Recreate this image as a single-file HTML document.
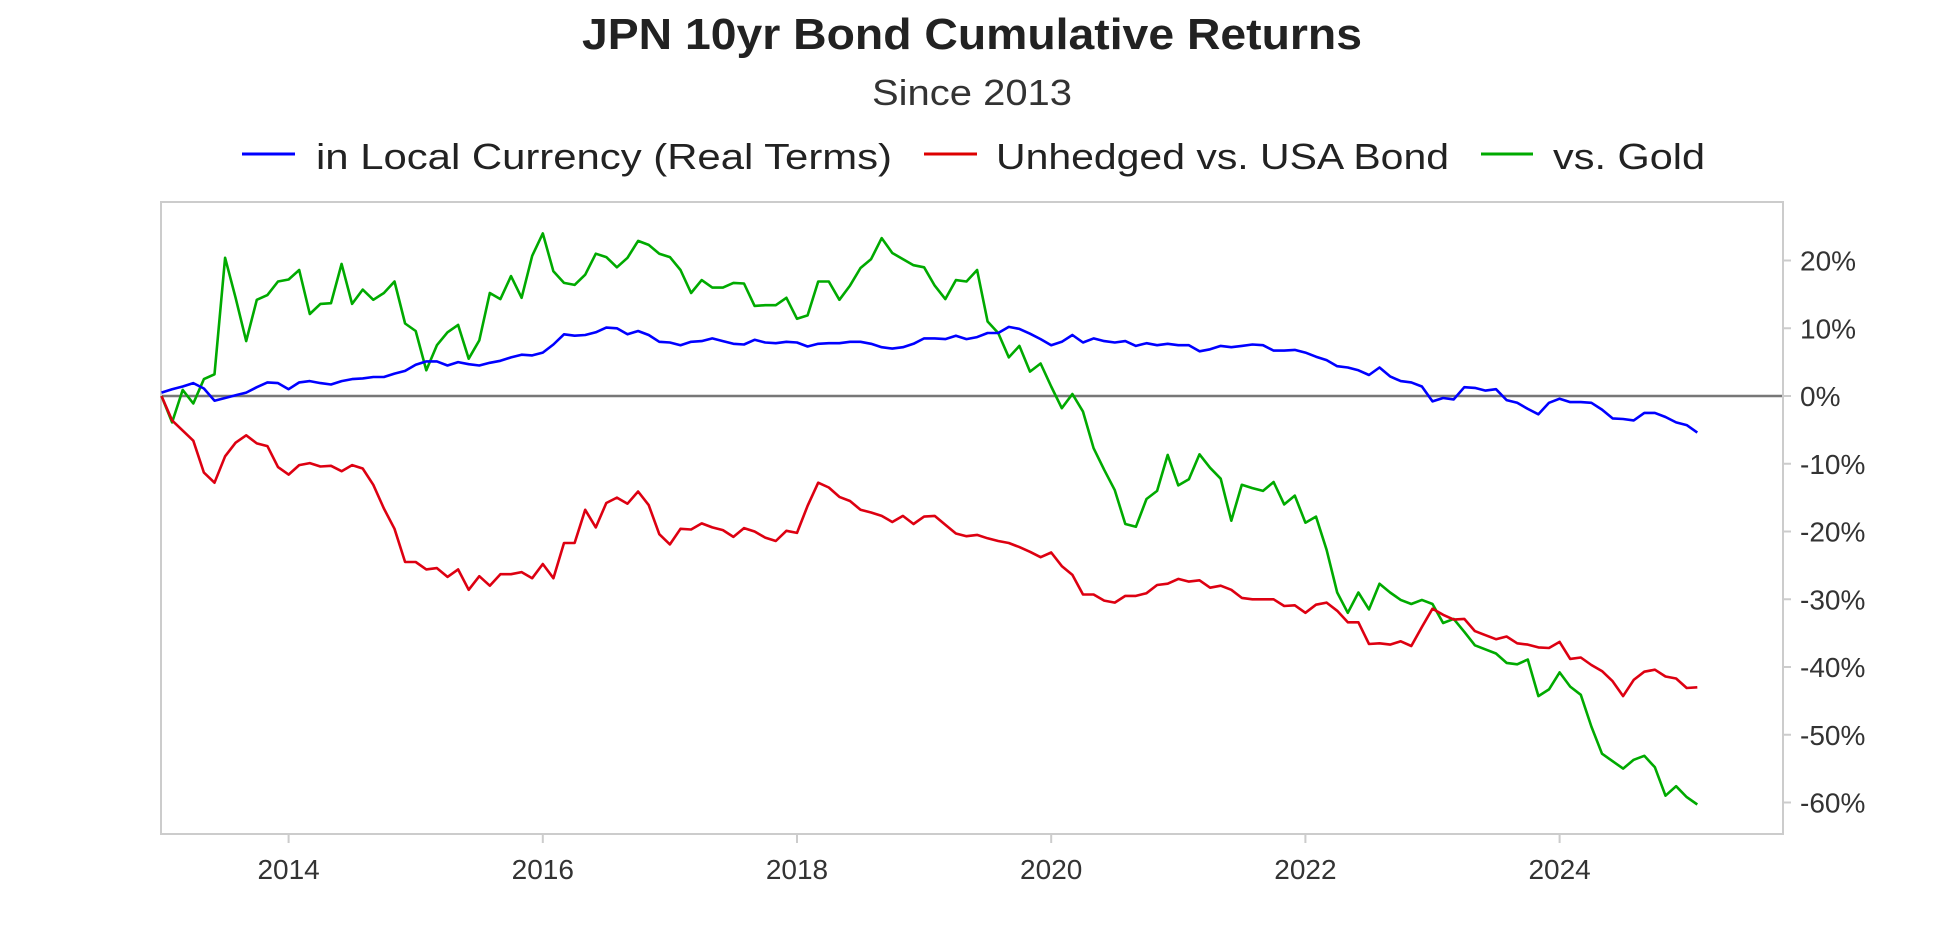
<!DOCTYPE html>
<html><head><meta charset="utf-8"><style>
html,body{margin:0;padding:0;background:#fff;}
svg{display:block;font-family:"Liberation Sans",sans-serif;}
</style></head><body>
<svg id="chart" width="1945" height="948" viewBox="0 0 1945 948" xmlns="http://www.w3.org/2000/svg">
<text x="972" y="49" text-anchor="middle" font-size="44" font-weight="bold" fill="#222" textLength="780" lengthAdjust="spacingAndGlyphs">JPN 10yr Bond Cumulative Returns</text>
<text x="972" y="105" text-anchor="middle" font-size="36" fill="#333" textLength="200" lengthAdjust="spacingAndGlyphs">Since 2013</text>
<g>
<g><line x1="242" y1="154" x2="295" y2="154" stroke="#0000ff" stroke-width="3"/><text x="316" y="169" font-size="36" fill="#222" textLength="576" lengthAdjust="spacingAndGlyphs">in Local Currency (Real Terms)</text></g>
<g><line x1="924" y1="154" x2="977" y2="154" stroke="#dd0000" stroke-width="3"/><text x="996" y="169" font-size="36" fill="#222" textLength="453" lengthAdjust="spacingAndGlyphs">Unhedged vs. USA Bond</text></g>
<g><line x1="1481" y1="154" x2="1533" y2="154" stroke="#00aa00" stroke-width="3"/><text x="1553" y="169" font-size="36" fill="#222" textLength="152" lengthAdjust="spacingAndGlyphs">vs. Gold</text></g>
</g>
<rect x="161" y="202" width="1622" height="632" fill="none" stroke="#cccccc" stroke-width="2"/>
<g id="axes"></g>
<g id="series"></g>
</svg>
<script>
const yTicks = [20, 10, 0, -10, -20, -30, -40, -50, -60];
const xTickYears = [2014, 2016, 2018, 2020, 2022, 2024];
const startYear = 2013;
const localReal = [0.5,1.0,1.4,1.9,1.1,-0.7,-0.3,0.1,0.5,1.3,2.0,1.9,1.0,2.0,2.2,1.9,1.7,2.2,2.5,2.6,2.8,2.8,3.3,3.7,4.6,5.1,5.1,4.5,5.0,4.7,4.5,4.9,5.2,5.7,6.1,6.0,6.4,7.6,9.1,8.9,9.0,9.4,10.1,10.0,9.1,9.6,9.0,8.0,7.9,7.5,8.0,8.1,8.5,8.1,7.7,7.6,8.3,7.9,7.8,8.0,7.9,7.3,7.7,7.8,7.8,8.0,8.0,7.7,7.2,7.0,7.2,7.7,8.5,8.5,8.4,8.9,8.4,8.7,9.3,9.3,10.2,9.9,9.2,8.4,7.5,8.0,9.0,7.9,8.5,8.1,7.9,8.1,7.4,7.8,7.5,7.7,7.5,7.5,6.6,6.9,7.4,7.2,7.4,7.6,7.5,6.7,6.7,6.8,6.4,5.8,5.3,4.4,4.2,3.8,3.1,4.2,2.9,2.2,2.0,1.4,-0.8,-0.3,-0.5,1.3,1.2,0.8,1.0,-0.6,-1.0,-1.9,-2.7,-1.0,-0.4,-0.9,-0.9,-1.0,-2.0,-3.3,-3.4,-3.6,-2.5,-2.5,-3.1,-3.9,-4.3,-5.4];
const unhedgedUsa = [0,-3.6,-5.1,-6.6,-11.3,-12.8,-8.9,-6.9,-5.8,-7.0,-7.4,-10.5,-11.6,-10.2,-9.9,-10.4,-10.3,-11.1,-10.2,-10.7,-13.1,-16.6,-19.6,-24.5,-24.5,-25.6,-25.4,-26.7,-25.6,-28.6,-26.6,-28.0,-26.3,-26.3,-26.0,-26.9,-24.8,-26.9,-21.7,-21.7,-16.8,-19.4,-15.8,-15.0,-15.9,-14.1,-16.1,-20.4,-21.9,-19.6,-19.7,-18.8,-19.4,-19.8,-20.8,-19.5,-20.0,-20.9,-21.4,-19.9,-20.2,-16.2,-12.8,-13.5,-14.9,-15.5,-16.8,-17.2,-17.7,-18.6,-17.7,-18.9,-17.8,-17.7,-19.0,-20.3,-20.7,-20.5,-21.0,-21.4,-21.7,-22.3,-23.0,-23.8,-23.1,-25.1,-26.4,-29.3,-29.3,-30.2,-30.5,-29.5,-29.5,-29.1,-27.9,-27.7,-27.0,-27.4,-27.2,-28.3,-28.0,-28.6,-29.8,-30.0,-30.0,-30.0,-31.0,-30.9,-32.0,-30.8,-30.5,-31.7,-33.4,-33.4,-36.6,-36.5,-36.7,-36.2,-36.9,-34.1,-31.4,-32.3,-33.0,-32.9,-34.7,-35.3,-35.9,-35.5,-36.5,-36.7,-37.1,-37.2,-36.3,-38.8,-38.6,-39.7,-40.6,-42.1,-44.3,-41.9,-40.7,-40.4,-41.4,-41.7,-43.1,-43.0];
const vsGold = [0,-3.9,0.9,-1.1,2.5,3.2,20.4,14.5,8.1,14.2,14.9,16.9,17.2,18.6,12.1,13.6,13.7,19.5,13.6,15.7,14.2,15.2,16.9,10.7,9.6,3.8,7.5,9.4,10.5,5.5,8.2,15.2,14.3,17.7,14.5,20.7,24.0,18.4,16.7,16.4,17.9,21.0,20.5,19.0,20.4,22.9,22.3,21.0,20.5,18.6,15.2,17.1,16.0,16.0,16.7,16.6,13.3,13.4,13.4,14.5,11.4,11.9,16.9,16.9,14.2,16.3,18.9,20.2,23.3,21.1,20.2,19.3,19.0,16.3,14.3,17.1,16.9,18.6,11.0,9.3,5.7,7.4,3.6,4.8,1.4,-1.8,0.3,-2.3,-7.7,-10.9,-13.9,-18.9,-19.3,-15.2,-14.0,-8.7,-13.2,-12.3,-8.6,-10.6,-12.2,-18.4,-13.1,-13.6,-14.0,-12.7,-16.0,-14.7,-18.7,-17.8,-22.7,-29.0,-32.0,-29.0,-31.5,-27.7,-29.0,-30.1,-30.7,-30.1,-30.7,-33.5,-32.9,-34.8,-36.8,-37.4,-38.0,-39.4,-39.6,-38.9,-44.3,-43.3,-40.8,-42.9,-44.1,-48.8,-52.8,-53.9,-55.0,-53.7,-53.1,-54.8,-59.0,-57.6,-59.2,-60.3];

const NS = "http://www.w3.org/2000/svg";
const X0 = 161.5, PX_PER_YEAR = 127.1;
const Y0 = 396, PX_PER_PCT = 6.775;
function xScale(t){ return X0 + (t - startYear) * PX_PER_YEAR; }
function yScale(v){ return Y0 - v * PX_PER_PCT; }
function mk(tag, attrs){ const e = document.createElementNS(NS, tag); for (const k in attrs) e.setAttribute(k, attrs[k]); return e; }

const axes = document.getElementById('axes');
yTicks.forEach(v => {
  const y = yScale(v);
  const t = mk('line', {x1:1783, x2:1791, y1:y, y2:y, stroke:'#cccccc', 'stroke-width':2});
  
  
  axes.appendChild(t);
  const lb = mk('text', {x:1800, y:y+10, 'font-size':28, fill:'#333'});
  
  
  lb.textContent = v + '%';
  axes.appendChild(lb);
});
xTickYears.forEach(yr => {
  const x = xScale(yr);
  const t = mk('line', {x1:x, x2:x, y1:834, y2:843, stroke:'#cccccc', 'stroke-width':2});
  
  
  axes.appendChild(t);
  const lb = mk('text', {x:x, y:879, 'font-size':28, fill:'#333', 'text-anchor':'middle'});
  
  
  lb.textContent = yr;
  axes.appendChild(lb);
});
const zl = mk('line', {x1:162, x2:1782, y1:yScale(0), y2:yScale(0), stroke:'#777777', 'stroke-width':2.5});


axes.appendChild(zl);

const ser = document.getElementById('series');
function drawLine(vals, color, name){
  const pts = vals.map((v, i) => xScale(startYear + i / 12).toFixed(1) + ',' + yScale(v).toFixed(1)).join(' ');
  const pl = mk('polyline', {points:pts, fill:'none', stroke:color, 'stroke-width':2.6, 'stroke-linejoin':'round'});
  
  
  ser.appendChild(pl);
}
drawLine(vsGold, '#00aa00', 'gold-line');
drawLine(unhedgedUsa, '#dd0011', 'usa-bond-line');
drawLine(localReal, '#0000ff', 'local-currency-line');
</script>
</body></html>
